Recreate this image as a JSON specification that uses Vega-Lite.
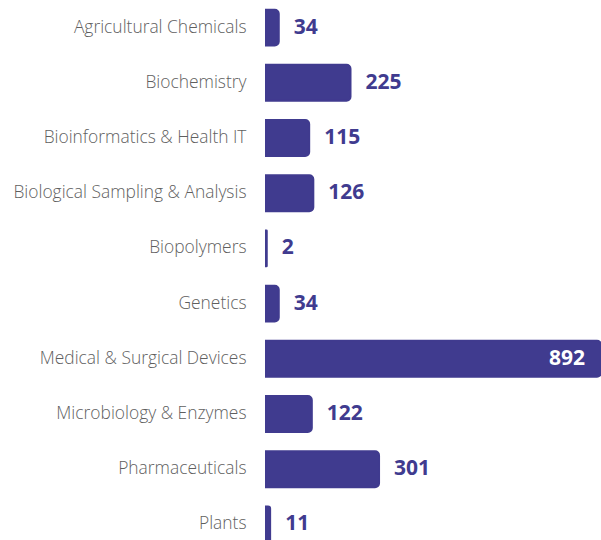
{
  "$schema": "https://vega.github.io/schema/vega-lite/v6.json",
  "width": 335,
  "height": 552,
  "autosize": {"type": "none"},
  "padding": {"left": 266, "top": 0, "right": 0, "bottom": 0},
  "background": "white",
  "config": {"view": {"stroke": null}, "font": "Open Sans"},
  "data": {"values": [
    {"category": "Agricultural Chemicals", "count": 34},
    {"category": "Biochemistry", "count": 225},
    {"category": "Bioinformatics & Health IT", "count": 115},
    {"category": "Biological Sampling & Analysis", "count": 126},
    {"category": "Biopolymers", "count": 2},
    {"category": "Genetics", "count": 34},
    {"category": "Medical & Surgical Devices", "count": 892},
    {"category": "Microbiology & Enzymes", "count": 122},
    {"category": "Pharmaceuticals", "count": 301},
    {"category": "Plants", "count": 11}
  ]},
  "encoding": {
    "y": {"field": "category", "type": "nominal", "sort": null,
      "scale": {"paddingInner": 0.35, "paddingOuter": 0.175},
      "axis": {"title": null, "domain": false, "ticks": false, "labelPadding": 20, "labelFontSize": 17.4, "labelFontWeight": 300, "labelColor": "#5f5f5f", "labelFont": "Open Sans", "labelLimit": 300}},
    "x": {"field": "count", "type": "quantitative", "scale": {"domain": [0, 892], "nice": false}, "axis": null}
  },
  "layer": [
    {"mark": {"type": "bar", "color": "#403B8F", "stroke": "#403B8F", "strokeWidth": 2, "cornerRadiusEnd": 4}},
    {"transform": [{"filter": "datum.count < 800"}],
      "mark": {"type": "text", "align": "left", "dx": 15, "fontSize": 21, "fontWeight": "bold", "color": "#403B8F", "baseline": "middle"},
      "encoding": {"text": {"field": "count", "type": "quantitative"}}},
    {"transform": [{"filter": "datum.count >= 800"}],
      "mark": {"type": "text", "align": "right", "dx": -16, "fontSize": 21, "fontWeight": "bold", "color": "white", "baseline": "middle"},
      "encoding": {"text": {"field": "count", "type": "quantitative"}}}
  ]
}
